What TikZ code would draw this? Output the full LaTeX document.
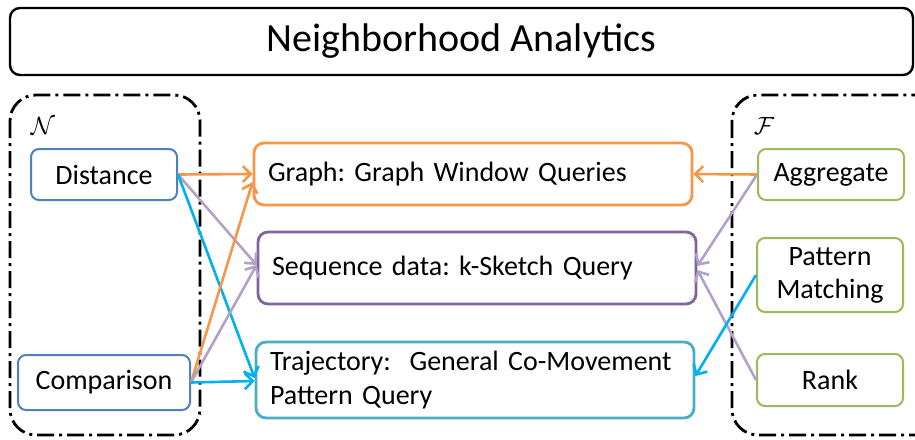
\documentclass[tikz,border=0pt]{standalone}
\usepackage{fontspec}
\setmainfont{Carlito}
\usetikzlibrary{arrows.meta,calc}
\frenchspacing

\definecolor{nblue}{HTML}{4F81BD}
\definecolor{fgreen}{HTML}{9BBB59}
\definecolor{gorange}{HTML}{F79646}
\definecolor{spurple}{HTML}{8064A2}
\definecolor{lavender}{HTML}{B3A2C7}
\definecolor{tteal}{HTML}{4BACC6}
\definecolor{skycyan}{HTML}{00B0F0}

\tikzset{
  smallbox/.style={draw, line width=2pt, rounded corners=8pt, align=center,
    font=\fontsize{28}{33}\selectfont, inner sep=0pt},
  querybox/.style={draw, line width=2.8pt, rounded corners=10pt, align=left,
    text width=410pt, minimum width=438pt, inner xsep=14pt, inner ysep=0pt,
    font=\fontsize{28}{34}\selectfont},
  groupbox/.style={line width=2.8pt, rounded corners=26pt,
    dash pattern=on 17pt off 5pt on 3pt off 5pt},
  link/.style={line width=2.6pt, -{Straight Barb[length=8pt,width=16pt,line width=2.6pt]}},
}

\begin{document}
\begin{tikzpicture}[x=1pt, y=-1pt]
  \useasboundingbox (0,0) rectangle (915,439);
  \clip (0,0) rectangle (915,439);

  % header
  \node[draw, line width=2.4pt, rounded corners=10pt, minimum width=903pt,
        minimum height=67pt, font=\fontsize{40}{46}\selectfont]
    (title) at (461.5,41.5) {Neighborhood Analytics};

  % neighbourhood and function groups
  \draw[groupbox] (10,95) rectangle (200,435);
  \draw[groupbox] (732,95) rectangle (940,435);
  \node[font=\fontsize{28}{30}\selectfont] (nlabel) at (43,126) {$\mathcal{N}$};
  \node[font=\fontsize{28}{30}\selectfont] (flabel) at (764,126) {$\mathcal{F}$};

  % left group
  \node[smallbox, nblue, text=black, minimum width=146pt, minimum height=51pt]
    (dist) at (104,174.5) {Distance};
  \node[smallbox, nblue, text=black, minimum width=172pt, minimum height=55pt]
    (comp) at (104,382.5) {Comparison};

  % queries
  \node[querybox, gorange, text=black, minimum height=62pt]
    (graph) at (473,174) {Graph: Graph Window Queries};
  \node[querybox, spurple, text=black, minimum height=72pt]
    (seq) at (477,268) {Sequence data: k-Sketch Query};
  \node[querybox, tteal, text=black, minimum height=76pt]
    (traj) at (475,380) {Trajectory:\ \ General Co-Movement\\Pattern Query};

  % right group
  \node[smallbox, fgreen, text=black, minimum width=146pt, minimum height=51pt]
    (agg) at (831,174.5) {Aggregate};
  \node[smallbox, fgreen, text=black, minimum width=146pt, minimum height=74pt]
    (pat) at (830,275) {Pattern\\Matching};
  \node[smallbox, fgreen, text=black, minimum width=146pt, minimum height=52pt]
    (rank) at (830,380) {Rank};

  % links from the neighbourhood side
  \draw[link, gorange] (dist.east) -- (graph.west);
  \draw[link, lavender] (dist.east) -- ($(seq.west)+(0,-3)$);
  \draw[link, skycyan] (dist.east) -- ($(traj.west)+(0,-2)$);
  \draw[link, gorange] (comp.east) -- ($(graph.west)+(0,8)$);
  \draw[link, lavender] (comp.east) -- ($(seq.west)+(0,-3)$);
  \draw[link, skycyan] (comp.east) -- ($(traj.west)+(0,1)$);

  % links from the function side
  \draw[link, gorange] (agg.west) -- (graph.east);
  \draw[link, lavender] (agg.west) -- ($(seq.east)+(0,-2)$);
  \draw[link, lavender] (rank.west) -- ($(seq.east)+(0,2)$);
  \draw[link, skycyan] (pat.west) -- ($(traj.east)+(0,-4)$);
\end{tikzpicture}
\end{document}
